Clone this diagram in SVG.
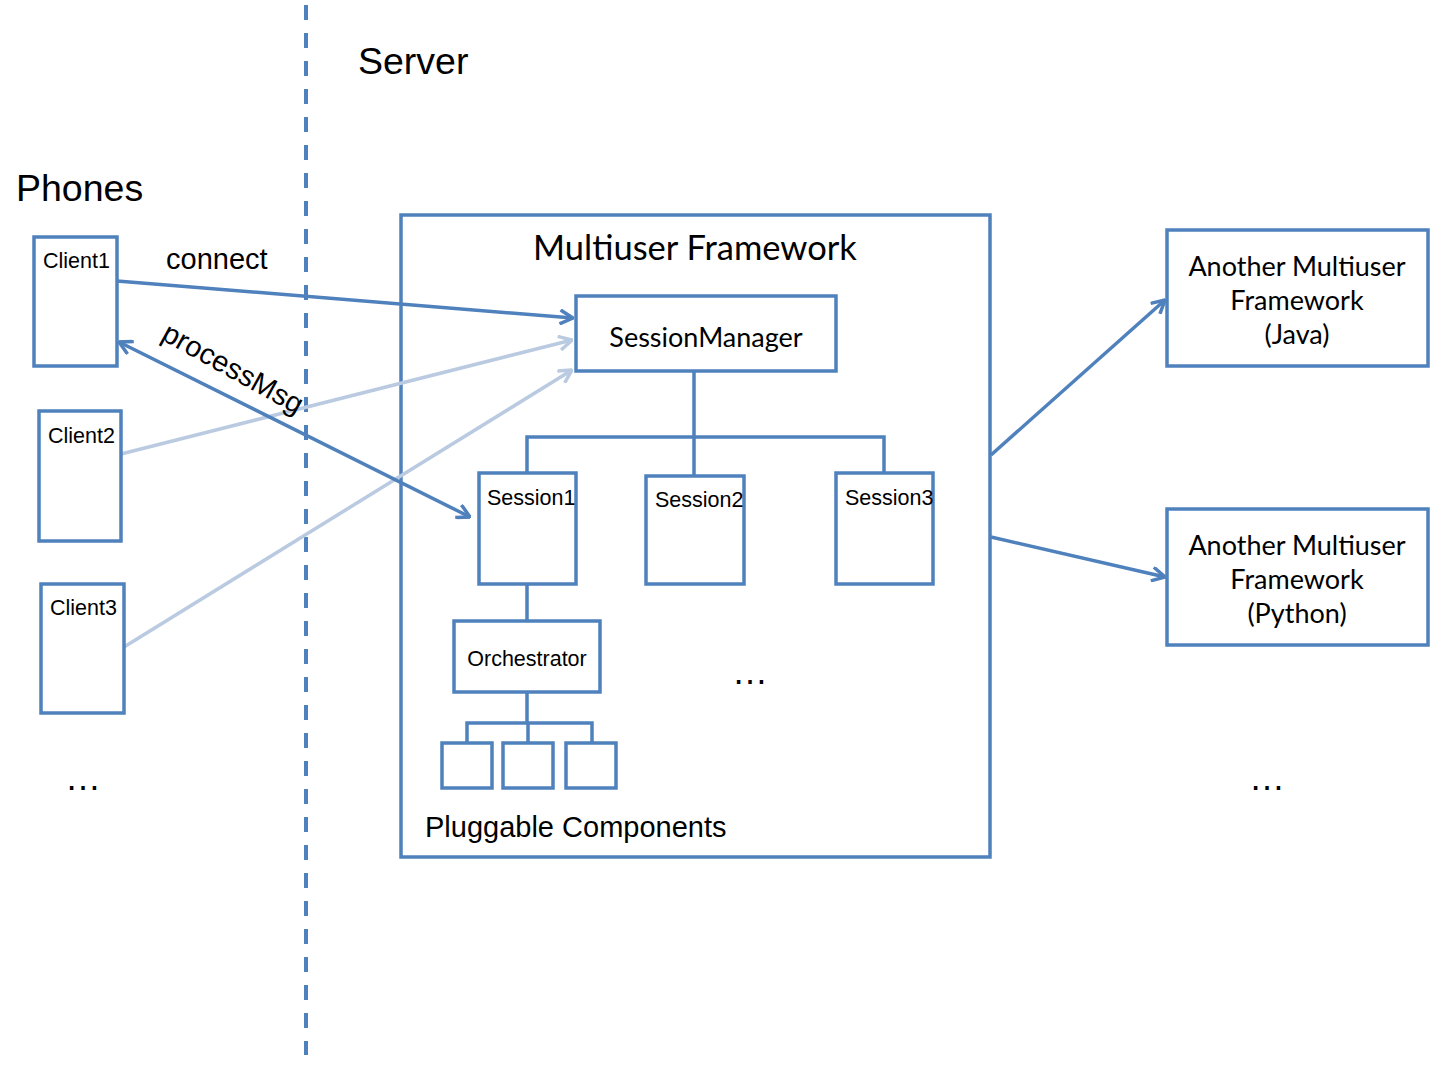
<svg xmlns="http://www.w3.org/2000/svg" width="1430" height="1065" viewBox="0 0 1430 1065">
<style>
.box{fill:#fff;stroke:#4F81BD;stroke-width:3.5}
.ln{fill:none;stroke:#4F81BD;stroke-width:3.5}
.lt{fill:none;stroke:#B9CAE1;stroke-width:3.5}
.a{font-family:"Liberation Sans",Arial,sans-serif;fill:#000}
.c{font-family:Lato,"Open Sans",sans-serif;fill:#000}
</style>
<defs>
<marker id="ah" viewBox="0 0 16 16" refX="15" refY="8" markerWidth="16" markerHeight="16" markerUnits="userSpaceOnUse" orient="auto-start-reverse">
<path d="M2,1 L15,8 L2,15" fill="none" stroke="#4F81BD" stroke-width="3.5"/>
</marker>
<marker id="al" viewBox="0 0 16 16" refX="15" refY="8" markerWidth="16" markerHeight="16" markerUnits="userSpaceOnUse" orient="auto">
<path d="M2,1 L15,8 L2,15" fill="none" stroke="#B9CAE1" stroke-width="3.5"/>
</marker>
</defs>
<rect width="1430" height="1065" fill="#fff"/>
<g id="divider">
<line x1="306" y1="5" x2="306" y2="1055" stroke="#4F81BD" stroke-width="4" stroke-dasharray="15 13"/>
</g>
<text class="a" x="358" y="74" font-size="37.5">Server</text>
<text class="a" x="16" y="201" font-size="37.5">Phones</text>
<g id="framework">
<rect class="box" x="401" y="215" width="589" height="642"/>
<text class="c" x="695" y="260" font-size="34.5" text-anchor="middle">Multiuser Framework</text>
<text class="a" x="425" y="837" font-size="29">Pluggable Components</text>
<text class="a" x="750" y="684" font-size="36" text-anchor="middle">…</text>
</g>
<g id="connectors">
<path class="ln" d="M694,371 V437 M527,473 V437 H884 V473 M694,437 V476"/>
<path class="ln" d="M527,584 V621"/>
<path class="ln" d="M527,692 V723 M467,743 V723 H592 V743 M528,723 V743"/>
<line class="ln" x1="117" y1="281" x2="573" y2="318" marker-end="url(#ah)"/>
<line class="lt" x1="121" y1="454" x2="572" y2="340" marker-end="url(#al)"/>
<line class="lt" x1="124" y1="647" x2="572" y2="370" marker-end="url(#al)"/>
<line class="ln" x1="119" y1="342" x2="470" y2="517" marker-start="url(#ah)" marker-end="url(#ah)"/>
<line class="ln" x1="991" y1="455" x2="1165" y2="300" marker-end="url(#ah)"/>
<line class="ln" x1="991" y1="537" x2="1165" y2="577" marker-end="url(#ah)"/>
<text class="a" x="166" y="269" font-size="29">connect</text>
<text class="a" font-size="29" transform="translate(160,339) rotate(29)">processMsg</text>
</g>
<g id="client1"><rect class="box" x="34" y="237" width="83" height="129"/><text class="a" x="43" y="268" font-size="21.5">Client1</text></g>
<g id="client2"><rect class="box" x="39" y="411" width="82" height="130"/><text class="a" x="48" y="443" font-size="21.5">Client2</text></g>
<g id="client3"><rect class="box" x="41" y="584" width="83" height="129"/><text class="a" x="50" y="615" font-size="21.5">Client3</text></g>
<text class="a" x="83" y="790" font-size="36" text-anchor="middle">…</text>
<g id="sessionmanager"><rect class="box" x="576" y="296" width="260" height="75"/><text class="c" x="706" y="347" font-size="27" text-anchor="middle">SessionManager</text></g>
<g id="session1"><rect class="box" x="479" y="473" width="97" height="111"/><text class="a" x="487" y="505" font-size="21.5">Session1</text></g>
<g id="session2"><rect class="box" x="646" y="476" width="98" height="108"/><text class="a" x="655" y="507" font-size="21.5">Session2</text></g>
<g id="session3"><rect class="box" x="836" y="473" width="97" height="111"/><text class="a" x="845" y="505" font-size="21.5">Session3</text></g>
<g id="orchestrator"><rect class="box" x="454" y="621" width="146" height="71"/><text class="a" x="527" y="666" font-size="21.5" text-anchor="middle">Orchestrator</text></g>
<g id="comp1"><rect class="box" x="442" y="743" width="50" height="45"/></g>
<g id="comp2"><rect class="box" x="503" y="743" width="50" height="45"/></g>
<g id="comp3"><rect class="box" x="566" y="743" width="50" height="45"/></g>
<g id="java"><rect class="box" x="1167" y="230" width="261" height="136"/>
<text class="c" font-size="27" text-anchor="middle"><tspan x="1297" y="276">Another Multiuser</tspan><tspan x="1297" y="310">Framework</tspan><tspan x="1297" y="344">(Java)</tspan></text></g>
<g id="python"><rect class="box" x="1167" y="509" width="261" height="136"/>
<text class="c" font-size="27" text-anchor="middle"><tspan x="1297" y="555">Another Multiuser</tspan><tspan x="1297" y="589">Framework</tspan><tspan x="1297" y="623">(Python)</tspan></text></g>
<text class="a" x="1267" y="790" font-size="36" text-anchor="middle">…</text>
</svg>
